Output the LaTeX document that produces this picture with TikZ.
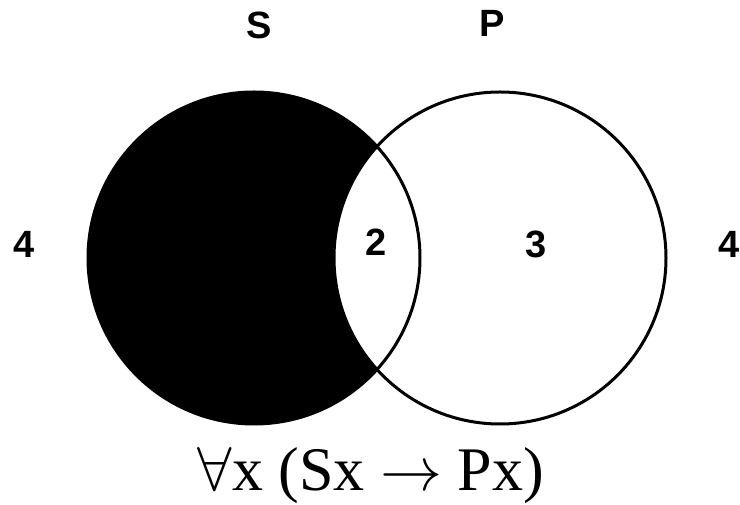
\documentclass[tikz,border=0pt]{standalone}
\usepackage{fix-cm}
\usepackage{fontspec}
\setmainfont{Liberation Serif}
\newfontfamily\lblfont{Liberation Sans}
\begin{document}
\begin{tikzpicture}[x=1pt,y=1pt,
  lbl/.style={font=\lblfont\bfseries\fontsize{38}{44}\selectfont, inner sep=0pt, anchor=base},
  ring/.style={line width=3pt, draw=black}]
\useasboundingbox (0,0) rectangle (740,505);
\coordinate (cS) at (254,247);
\coordinate (cP) at (500,247);
% shaded S minus P
\fill[black] (cS) circle[radius=166];
\begin{scope}
  \clip (cP) circle[radius=166];
  \fill[white] (cS) circle[radius=166];
\end{scope}
\draw[ring] (cS) circle[radius=166];
\draw[ring] (cP) circle[radius=166];
% labels
\node[lbl] (S) at (259,466) {S};
\node[lbl] (P) at (492,468) {P};
\node[lbl] (four1) at (24,247) {4};
\node[lbl] (two) at (376,249) {2};
\node[lbl] (three) at (536,247) {3};
\node[lbl] (four2) at (729,247) {4};
\node[inner sep=0pt, anchor=base, font=\fontsize{62}{70}\selectfont] (formula) at (371,14)
  {$\forall$x (Sx $\rightarrow$ Px)};
\end{tikzpicture}
\end{document}
